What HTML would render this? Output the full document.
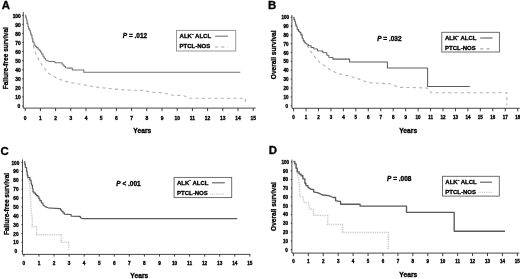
<!DOCTYPE html>
<html><head><meta charset="utf-8"><title>Survival curves</title>
<style>html,body{margin:0;padding:0;background:#fff;}body{width:520px;height:279px;overflow:hidden;font-family:"Liberation Sans", sans-serif;}svg{display:block;}text{font-family:"Liberation Sans", sans-serif;font-weight:bold;fill:#000;stroke:#000;stroke-width:0.32px;}</style>
</head><body>
<svg width="520" height="279" viewBox="0 0 520 279">
<defs><filter id="bl" x="-5%" y="-5%" width="110%" height="110%"><feGaussianBlur stdDeviation="0.28"/></filter></defs>
<rect x="0" y="0" width="520" height="279" fill="#fff"/>
<g filter="url(#bl)">
<!-- panel A -->
<text x="1.8" y="9.3" font-size="11.4" stroke-width="0.1">A</text>
<path d="M23.3 12.0 V108.1 H255.7" fill="none" stroke="#1a1a1a" stroke-width="0.8"/>
<path d="M25.20 108.1v3.0 M40.40 108.1v3.0 M55.60 108.1v3.0 M70.80 108.1v3.0 M86.00 108.1v3.0 M101.20 108.1v3.0 M116.40 108.1v3.0 M131.60 108.1v3.0 M146.80 108.1v3.0 M162.00 108.1v3.0 M177.20 108.1v3.0 M192.40 108.1v3.0 M207.60 108.1v3.0 M222.80 108.1v3.0 M238.00 108.1v3.0 M253.20 108.1v3.0 M23.3 106.00h-1.1 M23.3 96.93h-1.1 M23.3 87.86h-1.1 M23.3 78.79h-1.1 M23.3 69.72h-1.1 M23.3 60.65h-1.1 M23.3 51.58h-1.1 M23.3 42.51h-1.1 M23.3 33.44h-1.1 M23.3 24.37h-1.1 M23.3 15.30h-1.1" fill="none" stroke="#1a1a1a" stroke-width="0.85"/>
<g font-size="4.9" text-anchor="middle">
<text x="25.20" y="120.0">0</text>
<text x="40.40" y="120.0">1</text>
<text x="55.60" y="120.0">2</text>
<text x="70.80" y="120.0">3</text>
<text x="86.00" y="120.0">4</text>
<text x="101.20" y="120.0">5</text>
<text x="116.40" y="120.0">6</text>
<text x="131.60" y="120.0">7</text>
<text x="146.80" y="120.0">8</text>
<text x="162.00" y="120.0">9</text>
<text x="177.20" y="120.0">10</text>
<text x="192.40" y="120.0">11</text>
<text x="207.60" y="120.0">12</text>
<text x="222.80" y="120.0">13</text>
<text x="238.00" y="120.0">14</text>
<text x="253.20" y="120.0">15</text>
</g>
<g font-size="4.9" text-anchor="end">
<text x="20.3" y="108.30">0</text>
<text x="20.8" y="99.23">10</text>
<text x="20.8" y="90.16">20</text>
<text x="20.8" y="81.09">30</text>
<text x="20.8" y="72.02">40</text>
<text x="20.8" y="62.95">50</text>
<text x="20.8" y="53.88">60</text>
<text x="20.8" y="44.81">70</text>
<text x="20.8" y="35.74">80</text>
<text x="20.8" y="26.67">90</text>
<text x="20.8" y="17.60">100</text>
</g>
<text font-size="6.55" text-anchor="middle" transform="translate(8.2 58.2) rotate(-90)">Failure-free survival</text>
<text font-size="6.7" text-anchor="middle" x="142.3" y="132.6">Years</text>
<text font-size="6.5" x="122.8" y="37.5"><tspan font-style="italic">P</tspan> = .012</text>
<polyline points="25.2,15.3 26.0,17.5 26.6,20.0 27.4,23.5 28.2,26.5 28.8,28.8 29.8,30.6 30.6,33.0 31.3,35.1 32.2,38.5 33.1,43.0 33.8,47.5 35.0,51.4 36.2,54.5 37.5,57.1 39.4,60.8 41.3,64.0 43.2,66.6 45.1,69.0 47.0,71.4 48.8,73.4 51.3,75.0 53.8,76.2 57.0,78.0 62.7,80.4 70.2,82.6 82.7,84.6 95.3,86.9 107.8,88.4 120.4,89.6 132.9,90.2 145.0,90.4 150.0,92.2 162.6,92.7 172.7,95.2 184.0,95.7 189.0,98.2 245.4,98.2 245.4,105.5" fill="none" stroke="#b2b2b2" stroke-width="1.1" stroke-dasharray="3.1 3.2"/>
<polyline points="25.2,15.3 25.8,15.3 25.8,17.5 26.4,17.5 26.4,20.0 27.1,20.0 27.1,23.5 27.9,23.5 27.9,26.5 28.6,26.5 28.6,28.8 29.6,28.8 29.6,30.6 30.4,30.6 30.4,33.0 31.1,33.0 31.1,35.1 32.0,35.1 32.0,38.5 32.9,38.5 32.9,42.0 34.1,42.0 34.1,45.1 35.4,45.1 35.4,46.4 36.6,46.4 36.6,47.6 38.0,47.6 38.0,49.0 39.1,49.0 39.1,50.2 40.4,50.2 40.4,52.0 41.6,52.0 41.6,53.9 43.0,53.9 43.0,56.2 44.1,56.2 44.1,58.3 45.4,58.3 45.4,59.6 46.9,60.6 49.4,61.4 54.5,61.4 54.9,61.4 54.9,62.7 61.4,62.7 62.0,62.7 62.0,64.0 63.0,64.0 63.0,65.2 64.2,65.2 64.2,66.5 65.5,66.5 65.5,67.7 68.0,68.1 72.0,68.1 72.3,68.1 72.3,69.9 83.4,69.9 83.8,69.9 83.8,72.3 240.4,72.3" fill="none" stroke="#757575" stroke-width="1.05" stroke-linejoin="round"/>
<rect x="176.5" y="30.4" width="59.2" height="20.6" fill="#fff" stroke="#8e8e8e" stroke-width="0.9"/>
<text font-size="6" x="179.6" y="37.7">ALK<tspan font-size="5" dy="-2.2">-</tspan><tspan dy="2.2"> ALCL</tspan></text>
<text font-size="6" x="179.6" y="48.4">PTCL-NOS</text>
<line x1="215.0" y1="36.2" x2="228.0" y2="36.2" stroke="#757575" stroke-width="1.1"/>
<line x1="215.0" y1="47.0" x2="228.0" y2="47.0" stroke="#a8a8a8" stroke-width="1.2" stroke-dasharray="3.1 3.2"/>
<!-- panel B -->
<text x="268.1" y="8.6" font-size="11.4" stroke-width="0.1">B</text>
<path d="M291.9 15.0 V108.3 H519.7" fill="none" stroke="#1a1a1a" stroke-width="0.8"/>
<path d="M293.60 108.3v3.0 M306.05 108.3v3.0 M318.50 108.3v3.0 M330.95 108.3v3.0 M343.40 108.3v3.0 M355.85 108.3v3.0 M368.30 108.3v3.0 M380.75 108.3v3.0 M393.20 108.3v3.0 M405.65 108.3v3.0 M418.10 108.3v3.0 M430.55 108.3v3.0 M443.00 108.3v3.0 M455.45 108.3v3.0 M467.90 108.3v3.0 M480.35 108.3v3.0 M492.80 108.3v3.0 M505.25 108.3v3.0 M517.70 108.3v3.0 M291.9 105.70h-1.1 M291.9 96.85h-1.1 M291.9 88.00h-1.1 M291.9 79.15h-1.1 M291.9 70.30h-1.1 M291.9 61.45h-1.1 M291.9 52.60h-1.1 M291.9 43.75h-1.1 M291.9 34.90h-1.1 M291.9 26.05h-1.1 M291.9 17.20h-1.1" fill="none" stroke="#1a1a1a" stroke-width="0.85"/>
<g font-size="4.5" text-anchor="middle">
<text x="293.60" y="119.2">0</text>
<text x="306.05" y="119.2">1</text>
<text x="318.50" y="119.2">2</text>
<text x="330.95" y="119.2">3</text>
<text x="343.40" y="119.2">4</text>
<text x="355.85" y="119.2">5</text>
<text x="368.30" y="119.2">6</text>
<text x="380.75" y="119.2">7</text>
<text x="393.20" y="119.2">8</text>
<text x="405.65" y="119.2">9</text>
<text x="418.10" y="119.2">10</text>
<text x="430.55" y="119.2">11</text>
<text x="443.00" y="119.2">12</text>
<text x="455.45" y="119.2">13</text>
<text x="467.90" y="119.2">14</text>
<text x="480.35" y="119.2">15</text>
<text x="492.80" y="119.2">16</text>
<text x="505.25" y="119.2">17</text>
<text x="517.70" y="119.2">18</text>
</g>
<g font-size="4.5" text-anchor="end">
<text x="288.1" y="107.70">0</text>
<text x="288.4" y="98.85">10</text>
<text x="288.4" y="90.00">20</text>
<text x="288.4" y="81.15">30</text>
<text x="288.4" y="72.30">40</text>
<text x="288.4" y="63.45">50</text>
<text x="288.4" y="54.60">60</text>
<text x="288.4" y="45.75">70</text>
<text x="288.4" y="36.90">80</text>
<text x="288.4" y="28.05">90</text>
<text x="288.9" y="19.20">100</text>
</g>
<text font-size="6.55" text-anchor="middle" transform="translate(276.0 54.8) rotate(-90)">Overall survival</text>
<text font-size="6.7" text-anchor="middle" x="408.2" y="132.5">Years</text>
<text font-size="6.5" x="377.2" y="41.0"><tspan font-style="italic">P</tspan> = .032</text>
<polyline points="293.4,17.3 294.3,19.5 295.0,21.3 295.7,24.0 296.3,26.3 297.5,29.4 298.8,31.2 300.0,32.6 301.2,34.8 302.5,38.2 303.5,40.4 304.4,41.9 305.4,43.0 306.3,43.8 306.8,45.0 309.4,49.4 312.5,53.8 316.3,58.8 320.1,62.6 325.0,66.1 331.2,70.4 338.9,73.8 348.1,75.8 355.8,78.1 362.8,80.4 368.9,82.7 378.9,83.2 391.3,84.0 395.1,85.8 398.2,87.3 415.0,87.6 427.6,88.1 431.4,92.8 506.9,92.8 506.9,105.5" fill="none" stroke="#b2b2b2" stroke-width="1.1" stroke-dasharray="3.1 3.2"/>
<polyline points="293.4,17.3 294.1,17.3 294.1,19.5 294.8,19.5 294.8,21.3 295.4,21.3 295.4,24.0 296.1,24.0 296.1,26.3 297.2,26.3 297.2,29.4 298.6,29.4 298.6,31.2 299.8,31.2 299.8,32.6 300.9,32.6 300.9,34.8 302.2,34.8 302.2,38.2 303.2,38.2 303.2,40.4 304.1,40.4 304.1,41.9 305.1,41.9 305.1,43.0 306.1,43.0 306.1,43.8 308.2,44.4 308.2,45.7 310.0,45.7 311.1,45.7 311.1,47.5 313.8,47.5 313.8,48.8 317.6,49.0 317.6,50.7 322.6,50.9 322.9,50.9 322.9,52.6 326.3,52.8 326.8,52.8 326.8,55.1 328.9,55.7 328.9,55.7 328.9,57.3 332.6,57.6 332.9,57.6 332.9,59.1 349.6,59.1 349.6,61.9 387.4,61.9 387.4,67.9 427.6,67.9 427.6,86.4 469.8,86.4" fill="none" stroke="#5e5e5e" stroke-width="1.05" stroke-linejoin="round"/>
<rect x="441.8" y="32.3" width="57.6" height="19.7" fill="#fff" stroke="#5e5e5e" stroke-width="0.9"/>
<text font-size="6" x="445.0" y="39.7">ALK<tspan font-size="5" dy="-2.2">-</tspan><tspan dy="2.2"> ALCL</tspan></text>
<text font-size="6" x="445.0" y="49.6">PTCL-NOS</text>
<line x1="480.2" y1="38.0" x2="492.6" y2="38.0" stroke="#5e5e5e" stroke-width="1.1"/>
<line x1="480.2" y1="48.8" x2="492.6" y2="48.8" stroke="#a8a8a8" stroke-width="1.2" stroke-dasharray="3.1 3.2"/>
<!-- panel C -->
<text x="0.5" y="154.6" font-size="11.4" stroke-width="0.1">C</text>
<path d="M22.5 159.4 V254.4 H250.3" fill="none" stroke="#1a1a1a" stroke-width="0.8"/>
<path d="M23.90 254.4v2.2 M38.96 254.4v2.2 M54.02 254.4v2.2 M69.08 254.4v2.2 M84.14 254.4v2.2 M99.20 254.4v2.2 M114.26 254.4v2.2 M129.32 254.4v2.2 M144.38 254.4v2.2 M159.44 254.4v2.2 M174.50 254.4v2.2 M189.56 254.4v2.2 M204.62 254.4v2.2 M219.68 254.4v2.2 M234.74 254.4v2.2 M249.80 254.4v2.2 M22.5 251.20h-1.1 M22.5 242.33h-1.1 M22.5 233.46h-1.1 M22.5 224.59h-1.1 M22.5 215.72h-1.1 M22.5 206.85h-1.1 M22.5 197.98h-1.1 M22.5 189.11h-1.1 M22.5 180.24h-1.1 M22.5 171.37h-1.1 M22.5 162.50h-1.1" fill="none" stroke="#1a1a1a" stroke-width="0.85"/>
<g font-size="4.7" text-anchor="middle">
<text x="23.90" y="265.4">0</text>
<text x="38.96" y="265.4">1</text>
<text x="54.02" y="265.4">2</text>
<text x="69.08" y="265.4">3</text>
<text x="84.14" y="265.4">4</text>
<text x="99.20" y="265.4">5</text>
<text x="114.26" y="265.4">6</text>
<text x="129.32" y="265.4">7</text>
<text x="144.38" y="265.4">8</text>
<text x="159.44" y="265.4">9</text>
<text x="174.50" y="265.4">10</text>
<text x="189.56" y="265.4">11</text>
<text x="204.62" y="265.4">12</text>
<text x="219.68" y="265.4">13</text>
<text x="234.74" y="265.4">14</text>
<text x="249.80" y="265.4">15</text>
</g>
<g font-size="4.7" text-anchor="end">
<text x="17.2" y="253.30">0</text>
<text x="18.5" y="244.43">10</text>
<text x="18.5" y="235.56">20</text>
<text x="18.5" y="226.69">30</text>
<text x="18.5" y="217.82">40</text>
<text x="18.5" y="208.95">50</text>
<text x="18.5" y="200.08">60</text>
<text x="18.5" y="191.21">70</text>
<text x="18.5" y="182.34">80</text>
<text x="18.5" y="173.47">90</text>
<text x="19.3" y="164.60">100</text>
</g>
<text font-size="6.55" text-anchor="middle" transform="translate(9.1 204.0) rotate(-90)">Failure-free survival</text>
<text font-size="6.7" text-anchor="middle" x="139.3" y="278.1">Years</text>
<text font-size="6.5" x="116.3" y="186.1"><tspan font-style="italic">P</tspan> &lt; .001</text>
<polyline points="24.0,161.9 25.0,164.4 25.7,167.5 26.5,171.0 27.3,175.0 28.2,179.0 28.8,181.3 29.4,183.5 29.8,185.0 30.3,195.0 30.7,202.6 31.3,210.0 31.9,216.4 32.3,220.0 32.3,226.4 36.7,226.4 36.7,234.7 61.3,234.7 61.3,242.3 68.6,242.3 68.6,250.5" fill="none" stroke="#c6c6c6" stroke-width="1.5" stroke-dasharray="0.9 0.9"/>
<polyline points="24.0,161.9 24.8,161.9 24.8,164.4 25.4,164.4 25.4,167.5 26.6,167.5 26.6,171.3 27.2,171.3 27.2,175.1 27.9,175.1 27.9,177.6 29.9,177.6 29.9,180.1 31.1,180.1 31.1,183.2 31.6,183.2 31.6,185.0 32.4,185.0 32.4,188.5 33.0,188.5 33.0,191.9 34.1,191.9 34.1,193.2 35.5,193.2 35.5,194.4 36.6,194.4 36.6,195.7 38.0,195.7 38.0,196.9 39.0,196.9 39.0,198.8 39.9,198.8 39.9,200.7 41.4,200.7 41.4,203.0 43.0,203.0 43.0,205.1 45.1,206.6 48.2,207.8 52.6,208.2 59.5,208.6 60.5,208.6 60.5,210.0 61.8,210.0 61.8,211.3 63.0,211.3 63.0,212.8 64.3,212.8 64.3,214.1 70.2,214.5 71.2,214.5 71.2,216.1 79.6,216.3 80.3,216.3 80.3,217.6 82.8,218.7 237.2,218.7" fill="none" stroke="#5a5a5a" stroke-width="1.20" stroke-linejoin="round"/>
<rect x="174.1" y="177.4" width="57.6" height="20.2" fill="#fff" stroke="#5e5e5e" stroke-width="0.9"/>
<text font-size="6" x="177.0" y="184.5">ALK<tspan font-size="5" dy="-2.2">-</tspan><tspan dy="2.2"> ALCL</tspan></text>
<text font-size="6" x="177.0" y="195.4">PTCL-NOS</text>
<line x1="212.0" y1="182.8" x2="224.8" y2="182.8" stroke="#5a5a5a" stroke-width="1.1"/>
<line x1="210.5" y1="194.1" x2="224.8" y2="194.1" stroke="#c6c6c6" stroke-width="1.2" stroke-dasharray="0.9 0.9"/>
<!-- panel D -->
<text x="268.7" y="154.3" font-size="11.4" stroke-width="0.1">D</text>
<path d="M291.9 159.6 V253.1 H519.3" fill="none" stroke="#1a1a1a" stroke-width="0.8"/>
<path d="M293.40 253.1v3.0 M308.33 253.1v3.0 M323.26 253.1v3.0 M338.19 253.1v3.0 M353.12 253.1v3.0 M368.05 253.1v3.0 M382.98 253.1v3.0 M397.91 253.1v3.0 M412.84 253.1v3.0 M427.77 253.1v3.0 M442.70 253.1v3.0 M457.63 253.1v3.0 M472.56 253.1v3.0 M487.49 253.1v3.0 M502.42 253.1v3.0 M517.35 253.1v3.0 M291.9 249.70h-1.1 M291.9 240.92h-1.1 M291.9 232.14h-1.1 M291.9 223.36h-1.1 M291.9 214.58h-1.1 M291.9 205.80h-1.1 M291.9 197.02h-1.1 M291.9 188.24h-1.1 M291.9 179.46h-1.1 M291.9 170.68h-1.1 M291.9 161.90h-1.1" fill="none" stroke="#1a1a1a" stroke-width="0.85"/>
<g font-size="4.5" text-anchor="middle">
<text x="293.40" y="263.3">0</text>
<text x="308.33" y="263.3">1</text>
<text x="323.26" y="263.3">2</text>
<text x="338.19" y="263.3">3</text>
<text x="353.12" y="263.3">4</text>
<text x="368.05" y="263.3">5</text>
<text x="382.98" y="263.3">6</text>
<text x="397.91" y="263.3">7</text>
<text x="412.84" y="263.3">8</text>
<text x="427.77" y="263.3">9</text>
<text x="442.70" y="263.3">10</text>
<text x="457.63" y="263.3">11</text>
<text x="472.56" y="263.3">12</text>
<text x="487.49" y="263.3">13</text>
<text x="502.42" y="263.3">14</text>
<text x="517.35" y="263.3">15</text>
</g>
<g font-size="4.5" text-anchor="end">
<text x="287.7" y="251.55">0</text>
<text x="288.0" y="242.77">10</text>
<text x="288.0" y="233.99">20</text>
<text x="288.0" y="225.21">30</text>
<text x="288.0" y="216.43">40</text>
<text x="288.0" y="207.65">50</text>
<text x="288.0" y="198.87">60</text>
<text x="288.0" y="190.09">70</text>
<text x="288.0" y="181.31">80</text>
<text x="288.0" y="172.53">90</text>
<text x="289.0" y="163.75">100</text>
</g>
<text font-size="6.55" text-anchor="middle" transform="translate(275.9 206.5) rotate(-90)">Overall survival</text>
<text font-size="6.7" text-anchor="middle" x="408.3" y="276.7">Years</text>
<text font-size="6.5" x="387.0" y="181.0"><tspan font-style="italic">P</tspan> = .008</text>
<polyline points="293.5,161.5 295.0,163.8 296.3,168.2 297.2,172.0 297.5,175.0 298.8,180.0 299.4,185.0 299.4,190.0 300.1,196.3 303.2,196.9 303.8,202.6 308.8,202.6 309.5,208.8 313.2,209.5 313.6,215.3 327.7,215.5 327.7,224.4 342.6,224.4 342.6,232.6 388.3,232.6 388.3,249.2" fill="none" stroke="#c6c6c6" stroke-width="1.5" stroke-dasharray="0.9 0.9"/>
<polyline points="293.5,161.5 294.8,161.5 294.8,163.8 296.1,163.8 296.1,168.2 297.2,168.2 297.2,171.9 299.1,171.9 299.1,174.1 301.1,174.1 301.1,175.7 302.9,175.7 302.9,178.8 304.9,178.8 304.9,183.2 305.9,183.2 305.9,185.6 307.9,185.6 307.9,187.3 309.8,188.4 311.3,189.4 313.6,189.4 313.6,191.9 318.2,192.8 322.6,195.0 328.9,195.7 333.3,197.5 335.6,197.5 335.6,200.7 338.9,201.3 340.6,201.3 340.6,204.2 359.5,204.2 360.1,204.2 360.1,206.1 406.5,206.1 406.5,212.3 454.2,212.3 454.2,231.2 505.0,231.2" fill="none" stroke="#5a5a5a" stroke-width="1.35" stroke-linejoin="round"/>
<rect x="442.5" y="176.3" width="56.8" height="19.8" fill="#fff" stroke="#5e5e5e" stroke-width="0.9"/>
<text font-size="6" x="445.3" y="183.7">ALK<tspan font-size="5" dy="-2.2">-</tspan><tspan dy="2.2"> ALCL</tspan></text>
<text font-size="6" x="445.3" y="194.1">PTCL-NOS</text>
<line x1="480.0" y1="182.2" x2="492.0" y2="182.2" stroke="#5a5a5a" stroke-width="1.1"/>
<line x1="478.5" y1="192.3" x2="492.0" y2="192.3" stroke="#c6c6c6" stroke-width="1.2" stroke-dasharray="0.9 0.9"/>
</g>
</svg>
</body></html>
